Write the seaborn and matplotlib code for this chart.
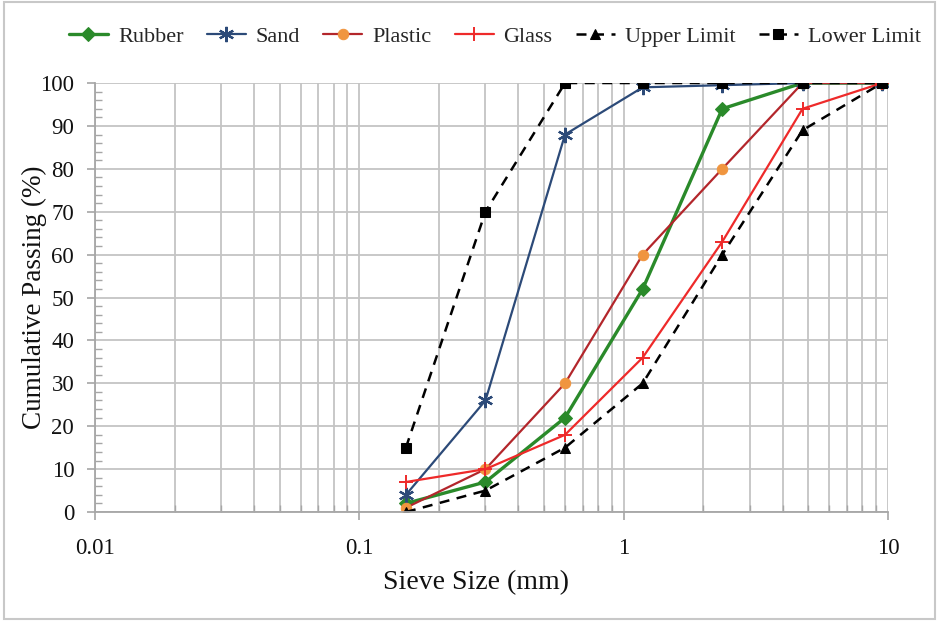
import numpy as np
import pandas as pd
import matplotlib
matplotlib.use("Agg")
import matplotlib.pyplot as plt
import matplotlib.ticker as mticker
from matplotlib.patches import Rectangle
import seaborn as sns

# ---- data ----
sieve_sizes = [0.15, 0.3, 0.6, 1.18, 2.36, 4.75, 9.5]
rubber = [2, 7, 22, 52, 94, 100, 100]
sand = [4, 26, 88, 99, 99.5, 100, 100]
plastic = [1, 10, 30, 60, 80, 100, 100]
glass = [7, 10, 18, 36, 63, 94, 100]
upper_limit = [0, 5, 15, 30, 60, 89, 100]
lower_limit = [15, 70, 100, 100, 100, 100, 100]
series_names = ["Rubber", "Sand", "Plastic", "Glass", "Upper Limit", "Lower Limit"]
x_ticks = [0.01, 0.1, 1, 10]
x_ticklabels = ["0.01", "0.1", "1", "10"]
y_ticks = list(range(0, 101, 10))

sns.set_theme(style="white")
plt.rcParams["font.family"] = ["Liberation Serif", "DejaVu Serif"]

fig = plt.figure(figsize=(9.39, 6.21), dpi=100)
ax = fig.add_axes([0.1012, 0.1755, 0.8445, 0.6908])

styles = {
    "Rubber": dict(color="#2a8a2a", marker="D", markersize=7, linewidth=2.4,
                   markerfacecolor="#2a8a2a", markeredgecolor="#2a8a2a", linestyle="-"),
    "Sand": dict(color="#2c4a78", marker=(6, 2, 0), markersize=11, linewidth=1.6,
                 markeredgecolor="#2c4a78", markeredgewidth=1.6, linestyle="-"),
    "Plastic": dict(color="#b3262b", marker="o", markersize=7.5, linewidth=1.6,
                    markerfacecolor="#f0953f", markeredgecolor="#f0953f", linestyle="-"),
    "Glass": dict(color="#ee2a2a", marker="+", markersize=10, linewidth=1.6,
                  markeredgecolor="#ee2a2a", markeredgewidth=1.4, linestyle="-"),
    "Upper Limit": dict(color="black", marker="^", markersize=6.5, linewidth=1.8,
                        markerfacecolor="black", markeredgecolor="black", linestyle=(0, (4, 3))),
    "Lower Limit": dict(color="black", marker="s", markersize=7, linewidth=1.8,
                        markerfacecolor="black", markeredgecolor="black", linestyle=(0, (4, 3))),
}
values = {"Rubber": rubber, "Sand": sand, "Plastic": plastic, "Glass": glass,
          "Upper Limit": upper_limit, "Lower Limit": lower_limit}

for name in series_names:
    df = pd.DataFrame({"size": sieve_sizes, "passing": values[name]})
    sns.lineplot(data=df, x="size", y="passing", ax=ax, label=name,
                 sort=False, errorbar=None, **styles[name])

ax.set_xscale("log")
ax.set_xlim(0.01, 10)
ax.set_ylim(0, 100)
ax.set_xticks(x_ticks)
ax.set_xticklabels(x_ticklabels)
ax.xaxis.set_minor_locator(mticker.LogLocator(base=10, subs=np.arange(2, 10)))
ax.xaxis.set_minor_formatter(mticker.NullFormatter())
ax.set_yticks(y_ticks)
ax.yaxis.set_minor_locator(mticker.MultipleLocator(2))

grid_color = "#c4c4c4"
ax.grid(True, which="major", axis="both", color=grid_color, linewidth=1.3)
ax.grid(True, which="minor", axis="x", color=grid_color, linewidth=1.3)
ax.set_axisbelow(True)

for s in ["top", "right"]:
    ax.spines[s].set_visible(False)
for s in ["left", "bottom"]:
    ax.spines[s].set_color("#a6a6a6")
    ax.spines[s].set_linewidth(1.3)

ax.tick_params(which="major", direction="out", length=6, width=1.2, color="#a6a6a6",
               labelsize=16.5, labelcolor="#111111", left=True, bottom=True)
ax.tick_params(which="minor", direction="in", length=5, width=1.0, color="#a6a6a6",
               left=True, bottom=True)
ax.tick_params(axis="x", pad=13)
ax.tick_params(axis="y", pad=9)

ax.set_xlabel("Sieve Size (mm)", fontsize=20, color="#111111")
ax.set_ylabel("Cumulative Passing (%)", fontsize=19.5, color="#111111")
ax.xaxis.set_label_coords(0.48, -0.136)
ax.yaxis.set_label_coords(-0.061, 0.5)

ax.get_legend().remove()
handles, labels = ax.get_legend_handles_labels()
fig.legend(handles, labels, loc="upper center", ncol=6, frameon=False,
           bbox_to_anchor=(0.527, 0.99), fontsize=16, handlelength=1.75,
           columnspacing=1.05, handletextpad=0.45)

fig.patches.append(Rectangle((0.004, 0.004), 0.992, 0.992, transform=fig.transFigure,
                             fill=False, edgecolor="#c8c8c8", linewidth=1.5))

fig.savefig("out.png", dpi=100)
